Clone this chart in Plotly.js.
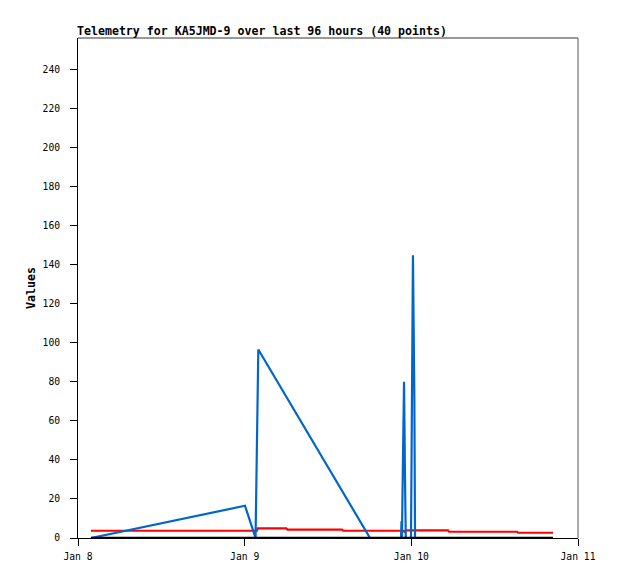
<!DOCTYPE html>
<html>
<head>
<meta charset="utf-8">
<script src="https://cdn.plot.ly/plotly-3.0.1.min.js"></script>
<style>html,body{margin:0;padding:0;background:#fff;}#chart{width:618px;height:579px;}</style>
</head>
<body>
<div id="chart"></div>
<script>
// ---- data ----
var chartTitle = "Telemetry for KA5JMD-9 over last 96 hours (40 points)";
var yTitle = "Values";

var redTimes = ["2016-01-08 01:52","2016-01-09 01:46","2016-01-09 01:52","2016-01-09 06:00","2016-01-09 06:10",
  "2016-01-09 14:01","2016-01-09 14:10","2016-01-09 22:50","2016-01-09 23:00","2016-01-09 23:12",
  "2016-01-10 05:17","2016-01-10 05:26","2016-01-10 15:13","2016-01-10 15:22","2016-01-10 20:24"];
var redValues = [3.7,3.7,4.9,4.9,4.3,4.3,3.7,3.7,3.2,3.9,3.9,3.2,3.2,2.7,2.7];

var blueTimes = ["2016-01-08 01:52","2016-01-09 00:03","2016-01-09 01:34","2016-01-09 01:47","2016-01-09 01:58",
  "2016-01-09 18:03","2016-01-09 22:31","2016-01-09 22:35","2016-01-09 22:39","2016-01-09 22:44",
  "2016-01-09 22:57","2016-01-09 23:05","2016-01-09 23:12","2016-01-09 23:57","2016-01-10 00:03",
  "2016-01-10 00:14","2016-01-10 00:26","2016-01-10 00:32"];
var blueValues = [0,16.5,0,48,96.5,0,0,8.5,0,24,80,32,0,0,48.5,144.7,72.5,0];

var blackTimes = ["2016-01-08 01:52","2016-01-09 01:52","2016-01-09 18:03","2016-01-10 00:32","2016-01-10 20:24"];
var blackValues = [0,0,0,0,0];

var xTickVals = ["2016-01-08","2016-01-09","2016-01-10","2016-01-11"];
var xTickText = ["Jan 8","Jan 9","Jan 10","Jan 11"];
var yTickVals = [0,20,40,60,80,100,120,140,160,180,200,220,240];

var mono = "DejaVu Sans Mono, Liberation Mono, monospace";

var traces = [
  {x: redTimes, y: redValues, type: "scatter", mode: "lines", line: {color: "#ff0000", width: 2.2}, hoverinfo: "none"},
  {x: blueTimes, y: blueValues, type: "scatter", mode: "lines", line: {color: "#0066cc", width: 2.2}, hoverinfo: "none"},
  {x: blackTimes, y: blackValues, type: "scatter", mode: "lines", line: {color: "#000000", width: 2.5}, hoverinfo: "none"}
];

var layout = {
  width: 618, height: 579,
  margin: {l: 78, r: 40, t: 38, b: 41, pad: 0},
  paper_bgcolor: "#ffffff", plot_bgcolor: "#ffffff",
  showlegend: false,
  title: {text: chartTitle, font: {family: mono, size: 11.6, color: "#000", weight: "bold"},
          xref: "container", x: 77/618, xanchor: "left", yref: "container", y: 1 - 31/579, yanchor: "middle"},
  xaxis: {type: "date", range: ["2016-01-08", "2016-01-11"], tickvals: xTickVals, ticktext: xTickText,
          showgrid: false, zeroline: false, showline: true, linecolor: "#000", linewidth: 1,
          ticks: "outside", ticklen: 7, tickcolor: "#000", tickwidth: 1, ticklabelstandoff: 2,
          tickfont: {family: mono, size: 9.7, color: "#000"}, fixedrange: true},
  yaxis: {range: [0, 256], tickvals: yTickVals, showgrid: false, zeroline: false,
          showline: true, linecolor: "#000", linewidth: 1,
          ticks: "outside", ticklen: 7, tickcolor: "#000", tickwidth: 1, ticklabelstandoff: 8,
          tickfont: {family: mono, size: 9.7, color: "#000"},
          title: {text: yTitle, font: {family: mono, size: 11.6, color: "#000", weight: "bold"}, standoff: 3.5},
          fixedrange: true},
  shapes: [
    {type: "line", xref: "paper", yref: "paper", x0: 0, x1: 1, y0: 1, y1: 1, line: {color: "#333", width: 1}},
    {type: "line", xref: "paper", yref: "paper", x0: 1, x1: 1, y0: 0, y1: 1, line: {color: "#555", width: 1}}
  ]
};

Plotly.newPlot("chart", traces, layout, {staticPlot: true, displayModeBar: false});
</script>
</body>
</html>
